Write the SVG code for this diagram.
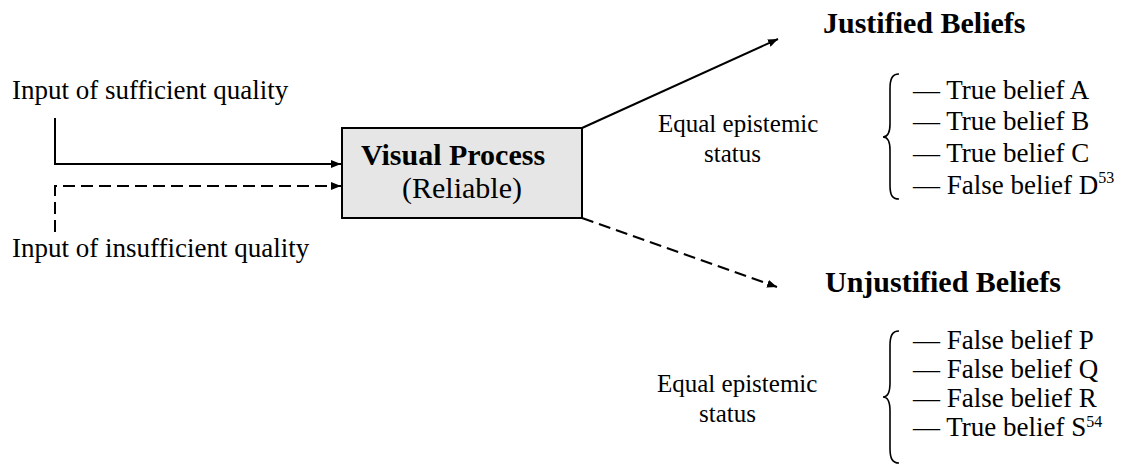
<svg xmlns="http://www.w3.org/2000/svg" width="1125" height="464" viewBox="0 0 1125 464">
<defs>
<marker id="ah" viewBox="0 0 10 8" refX="10" refY="4" markerWidth="10" markerHeight="8" markerUnits="userSpaceOnUse" orient="auto">
<path d="M0,0 L10,4 L0,8 Z" fill="#000"/>
</marker>
<style>
text{font-family:"Liberation Serif","Times New Roman",serif;fill:#000}
.t{font-size:27px}
.s{font-size:25px}
.h{font-size:30px;font-weight:bold}
.b{font-size:30px}
.sup{font-size:16px}
.ln{fill:none;stroke:#000;stroke-width:2}
.d{stroke-dasharray:12 6}
.br{fill:none;stroke:#000;stroke-width:1.6}
</style>
</defs>
<rect width="1125" height="464" fill="#fff"/>
<g id="input-sufficient"><text class="t" x="12" y="99">Input of sufficient quality</text></g>
<g id="input-insufficient"><text class="t" x="12" y="257">Input of insufficient quality</text></g>
<g id="visual-process">
<rect x="342" y="128" width="240" height="90" fill="#e6e6e6" stroke="#000" stroke-width="2"/>
<text class="h" x="453" y="165" text-anchor="middle">Visual Process</text>
<text class="b" x="462" y="198" text-anchor="middle">(Reliable)</text>
</g>
<g id="justified">
<text class="h" x="823" y="33">Justified Beliefs</text>
<text class="s" x="658" y="132">Equal epistemic</text>
<text class="s" x="704" y="162">status</text>
<path class="br" d="M899,74 C892,74 890,79 890,89 L890,124 C890,132 888,137 883,137 C888,137 890,142 890,150 L890,185 C890,195 892,199 899,199"/>
<text class="t" x="913" y="99">— True belief A</text>
<text class="t" x="913" y="130">— True belief B</text>
<text class="t" x="913" y="162">— True belief C</text>
<text class="t" x="913" y="194">— False belief D<tspan class="sup" dy="-11">53</tspan></text>
</g>
<g id="unjustified">
<text class="h" x="825" y="292">Unjustified Beliefs</text>
<text class="s" x="657" y="392">Equal epistemic</text>
<text class="s" x="699" y="422">status</text>
<path class="br" d="M899,331 C892,331 890,336 890,346 L890,383 C890,392 888,397 883,397 C888,397 890,402 890,411 L890,448 C890,458 892,463 899,463"/>
<text class="t" x="913" y="349">— False belief P</text>
<text class="t" x="913" y="378">— False belief Q</text>
<text class="t" x="913" y="407">— False belief R</text>
<text class="t" x="913" y="436">— True belief S<tspan class="sup" dy="-9">54</tspan></text>
</g>
<g id="connectors">
<path class="ln" d="M55,118 L55,164 L341,164" marker-end="url(#ah)"/>
<path class="ln d" d="M55,232 L55,186 L341,186" marker-end="url(#ah)"/>
<path class="ln" d="M582,128 L778,39" marker-end="url(#ah)"/>
<path class="ln d" d="M582,218 L777,287" marker-end="url(#ah)"/>
</g>
</svg>
